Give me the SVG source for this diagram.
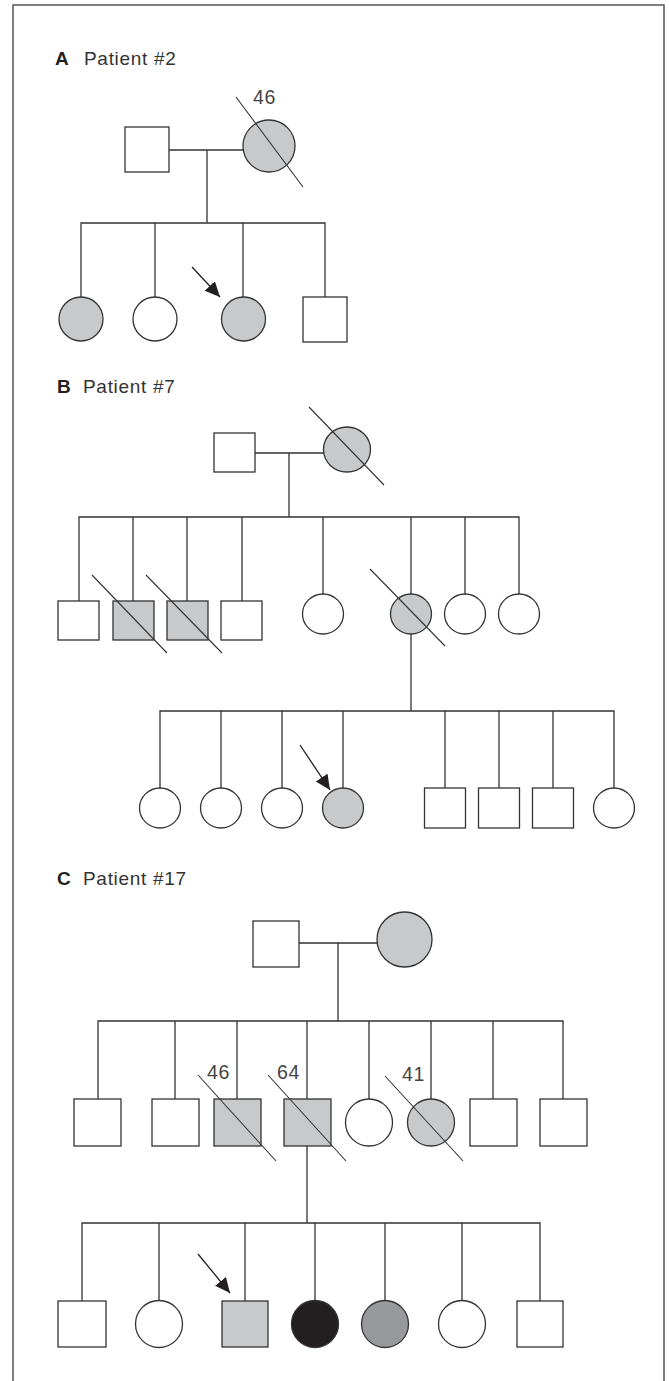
<svg xmlns="http://www.w3.org/2000/svg" width="669" height="1381" viewBox="0 0 669 1381">
  <defs>
    <marker id="arr" markerUnits="userSpaceOnUse" markerWidth="17" markerHeight="15" refX="15" refY="7" orient="auto">
      <path d="M0,0 L15,7 L0,14 z" fill="#231f20"/>
    </marker>
  </defs>
  <style>
    .frame { fill: none; stroke: #555; stroke-width: 1.5; }
    .sh { fill: #fff; stroke: #333; stroke-width: 1.3; }
    .aff { fill: #c8c9cb; }
    .blk { fill: #231f20; }
    .dk { fill: #98999c; }
    .dl { stroke: #333; stroke-width: 1.1; fill: none; }
    .con { fill: none; stroke: #333; stroke-width: 1.3; }
    .arw { stroke: #231f20; stroke-width: 1.3; fill: none; marker-end: url(#arr); }
    .ttl { font-family: "Liberation Sans", Arial, sans-serif; font-size: 19px; fill: #333; letter-spacing: 0.7px; }
    .tb { font-family: "Liberation Sans", Arial, sans-serif; font-size: 19px; font-weight: bold; fill: #231f20; }
    .age { font-family: "Liberation Sans", Arial, sans-serif; font-size: 19.5px; fill: #444; letter-spacing: 0.6px; }
  </style>
  <rect width="669" height="1381" fill="#fff"/>
  <path class="frame" d="M13 1381 V5 H664 V1381"/>

  <!-- Titles -->
  <g id="title-A"><text class="tb" x="55" y="65">A</text><text class="ttl" x="84" y="65">Patient #2</text></g>
  <g id="title-B"><text class="tb" x="57" y="393">B</text><text class="ttl" x="83" y="393">Patient #7</text></g>
  <g id="title-C"><text class="tb" x="57" y="885">C</text><text class="ttl" x="83" y="885">Patient #17</text></g>

  <!-- Connectors -->
  <g id="connectors">
    <!-- A -->
    <path class="con" d="M169 150 H243 M207 150 V223 M81 297 V223 H325 V297 M155 223 V297 M243 223 V297"/>
    <!-- B -->
    <path class="con" d="M255 453 H324 M289 453 V517 M79 601 V517 H519 V594 M133 517 V601 M187 517 V601 M242 517 V601 M323 517 V594 M411 517 V594 M465 517 V594"/>
    <path class="con" d="M411 634 V711 M160 788 V711 H614 V788 M221 711 V788 M282 711 V788 M343 711 V788 M445 711 V788 M499 711 V788 M553 711 V788"/>
    <!-- C -->
    <path class="con" d="M299 943 H377 M338 943 V1021 M98 1099 V1021 H563 V1099 M175 1021 V1099 M237 1021 V1099 M307 1021 V1099 M369 1021 V1099 M431 1021 V1099 M493 1021 V1099"/>
    <path class="con" d="M307 1146 V1223 M82 1301 V1223 H540 V1301 M159 1223 V1301 M245 1223 V1301 M315 1223 V1301 M385 1223 V1301 M462 1223 V1301"/>
    <!-- proband arrows -->
    <line class="arw" x1="192" y1="267" x2="220" y2="297"/>
    <line class="arw" x1="300" y1="745" x2="330" y2="790"/>
    <line class="arw" x1="198" y1="1254" x2="230" y2="1293"/>
  </g>

  <!-- Panel A nodes -->
  <g id="A-father"><rect class="sh" x="125" y="127" width="44" height="45"/></g>
  <g id="A-mother"><circle class="sh aff" cx="269" cy="146" r="26"/><line class="dl" x1="236" y1="97" x2="303" y2="187"/><text class="age" x="253" y="104">46</text></g>
  <g id="A-c1"><circle class="sh aff" cx="81" cy="319" r="22"/></g>
  <g id="A-c2"><circle class="sh" cx="155" cy="319" r="22"/></g>
  <g id="A-c3"><circle class="sh aff" cx="243.5" cy="319" r="22"/></g>
  <g id="A-c4"><rect class="sh" x="303" y="297" width="44" height="45"/></g>

  <!-- Panel B nodes -->
  <g id="B-father"><rect class="sh" x="214" y="433" width="41" height="39"/></g>
  <g id="B-mother"><ellipse class="sh aff" cx="347" cy="449.5" rx="23.5" ry="22.5"/><line class="dl" x1="309" y1="407" x2="384" y2="485"/></g>
  <g id="B-g2-1"><rect class="sh" x="58" y="601" width="41" height="39"/></g>
  <g id="B-g2-2"><rect class="sh aff" x="113" y="601" width="41" height="39"/><line class="dl" x1="92" y1="575" x2="167" y2="653"/></g>
  <g id="B-g2-3"><rect class="sh aff" x="167" y="601" width="41" height="39"/><line class="dl" x1="146" y1="575" x2="222" y2="653"/></g>
  <g id="B-g2-4"><rect class="sh" x="221" y="601" width="41" height="39"/></g>
  <g id="B-g2-5"><ellipse class="sh" cx="323" cy="614" rx="20.5" ry="20"/></g>
  <g id="B-g2-6"><ellipse class="sh aff" cx="411" cy="614" rx="20.5" ry="20"/><line class="dl" x1="370" y1="569" x2="445" y2="646"/></g>
  <g id="B-g2-7"><ellipse class="sh" cx="465" cy="614" rx="20.5" ry="20"/></g>
  <g id="B-g2-8"><ellipse class="sh" cx="519" cy="614" rx="20.5" ry="20"/></g>
  <g id="B-g3-1"><ellipse class="sh" cx="160" cy="808" rx="20.5" ry="20"/></g>
  <g id="B-g3-2"><ellipse class="sh" cx="221" cy="808" rx="20.5" ry="20"/></g>
  <g id="B-g3-3"><ellipse class="sh" cx="282" cy="808" rx="20.5" ry="20"/></g>
  <g id="B-g3-4"><ellipse class="sh aff" cx="343" cy="808" rx="20.5" ry="20"/></g>
  <g id="B-g3-5"><rect class="sh" x="424.5" y="788" width="41" height="40"/></g>
  <g id="B-g3-6"><rect class="sh" x="478.5" y="788" width="41" height="40"/></g>
  <g id="B-g3-7"><rect class="sh" x="532.5" y="788" width="41" height="40"/></g>
  <g id="B-g3-8"><ellipse class="sh" cx="614" cy="808" rx="20.5" ry="20"/></g>

  <!-- Panel C nodes -->
  <g id="C-father"><rect class="sh" x="253" y="921" width="46" height="46"/></g>
  <g id="C-mother"><circle class="sh aff" cx="404.5" cy="939.5" r="27.5"/></g>
  <g id="C-g2-1"><rect class="sh" x="74" y="1099" width="47" height="47"/></g>
  <g id="C-g2-2"><rect class="sh" x="152" y="1099" width="47" height="47"/></g>
  <g id="C-g2-3"><rect class="sh aff" x="214" y="1099" width="47" height="47"/><line class="dl" x1="198" y1="1075" x2="276" y2="1161"/><text class="age" x="207" y="1079">46</text></g>
  <g id="C-g2-4"><rect class="sh aff" x="284" y="1099" width="47" height="47"/><line class="dl" x1="268" y1="1075" x2="346" y2="1161"/><text class="age" x="277" y="1079">64</text></g>
  <g id="C-g2-5"><circle class="sh" cx="369" cy="1122.5" r="23.5"/></g>
  <g id="C-g2-6"><circle class="sh aff" cx="431" cy="1122.5" r="23.5"/><line class="dl" x1="385" y1="1076" x2="463" y2="1161"/><text class="age" x="402" y="1081">41</text></g>
  <g id="C-g2-7"><rect class="sh" x="470" y="1099" width="47" height="47"/></g>
  <g id="C-g2-8"><rect class="sh" x="540" y="1099" width="47" height="47"/></g>
  <g id="C-g3-1"><rect class="sh" x="58" y="1301" width="48" height="46"/></g>
  <g id="C-g3-2"><circle class="sh" cx="159" cy="1324" r="23.5"/></g>
  <g id="C-g3-3"><rect class="sh aff" x="222" y="1301" width="46" height="46"/></g>
  <g id="C-g3-4"><circle class="sh blk" cx="315" cy="1324" r="23.5"/></g>
  <g id="C-g3-5"><circle class="sh dk" cx="385" cy="1324" r="23.5"/></g>
  <g id="C-g3-6"><circle class="sh" cx="462" cy="1324" r="23.5"/></g>
  <g id="C-g3-7"><rect class="sh" x="517" y="1301" width="46" height="46"/></g>
</svg>
